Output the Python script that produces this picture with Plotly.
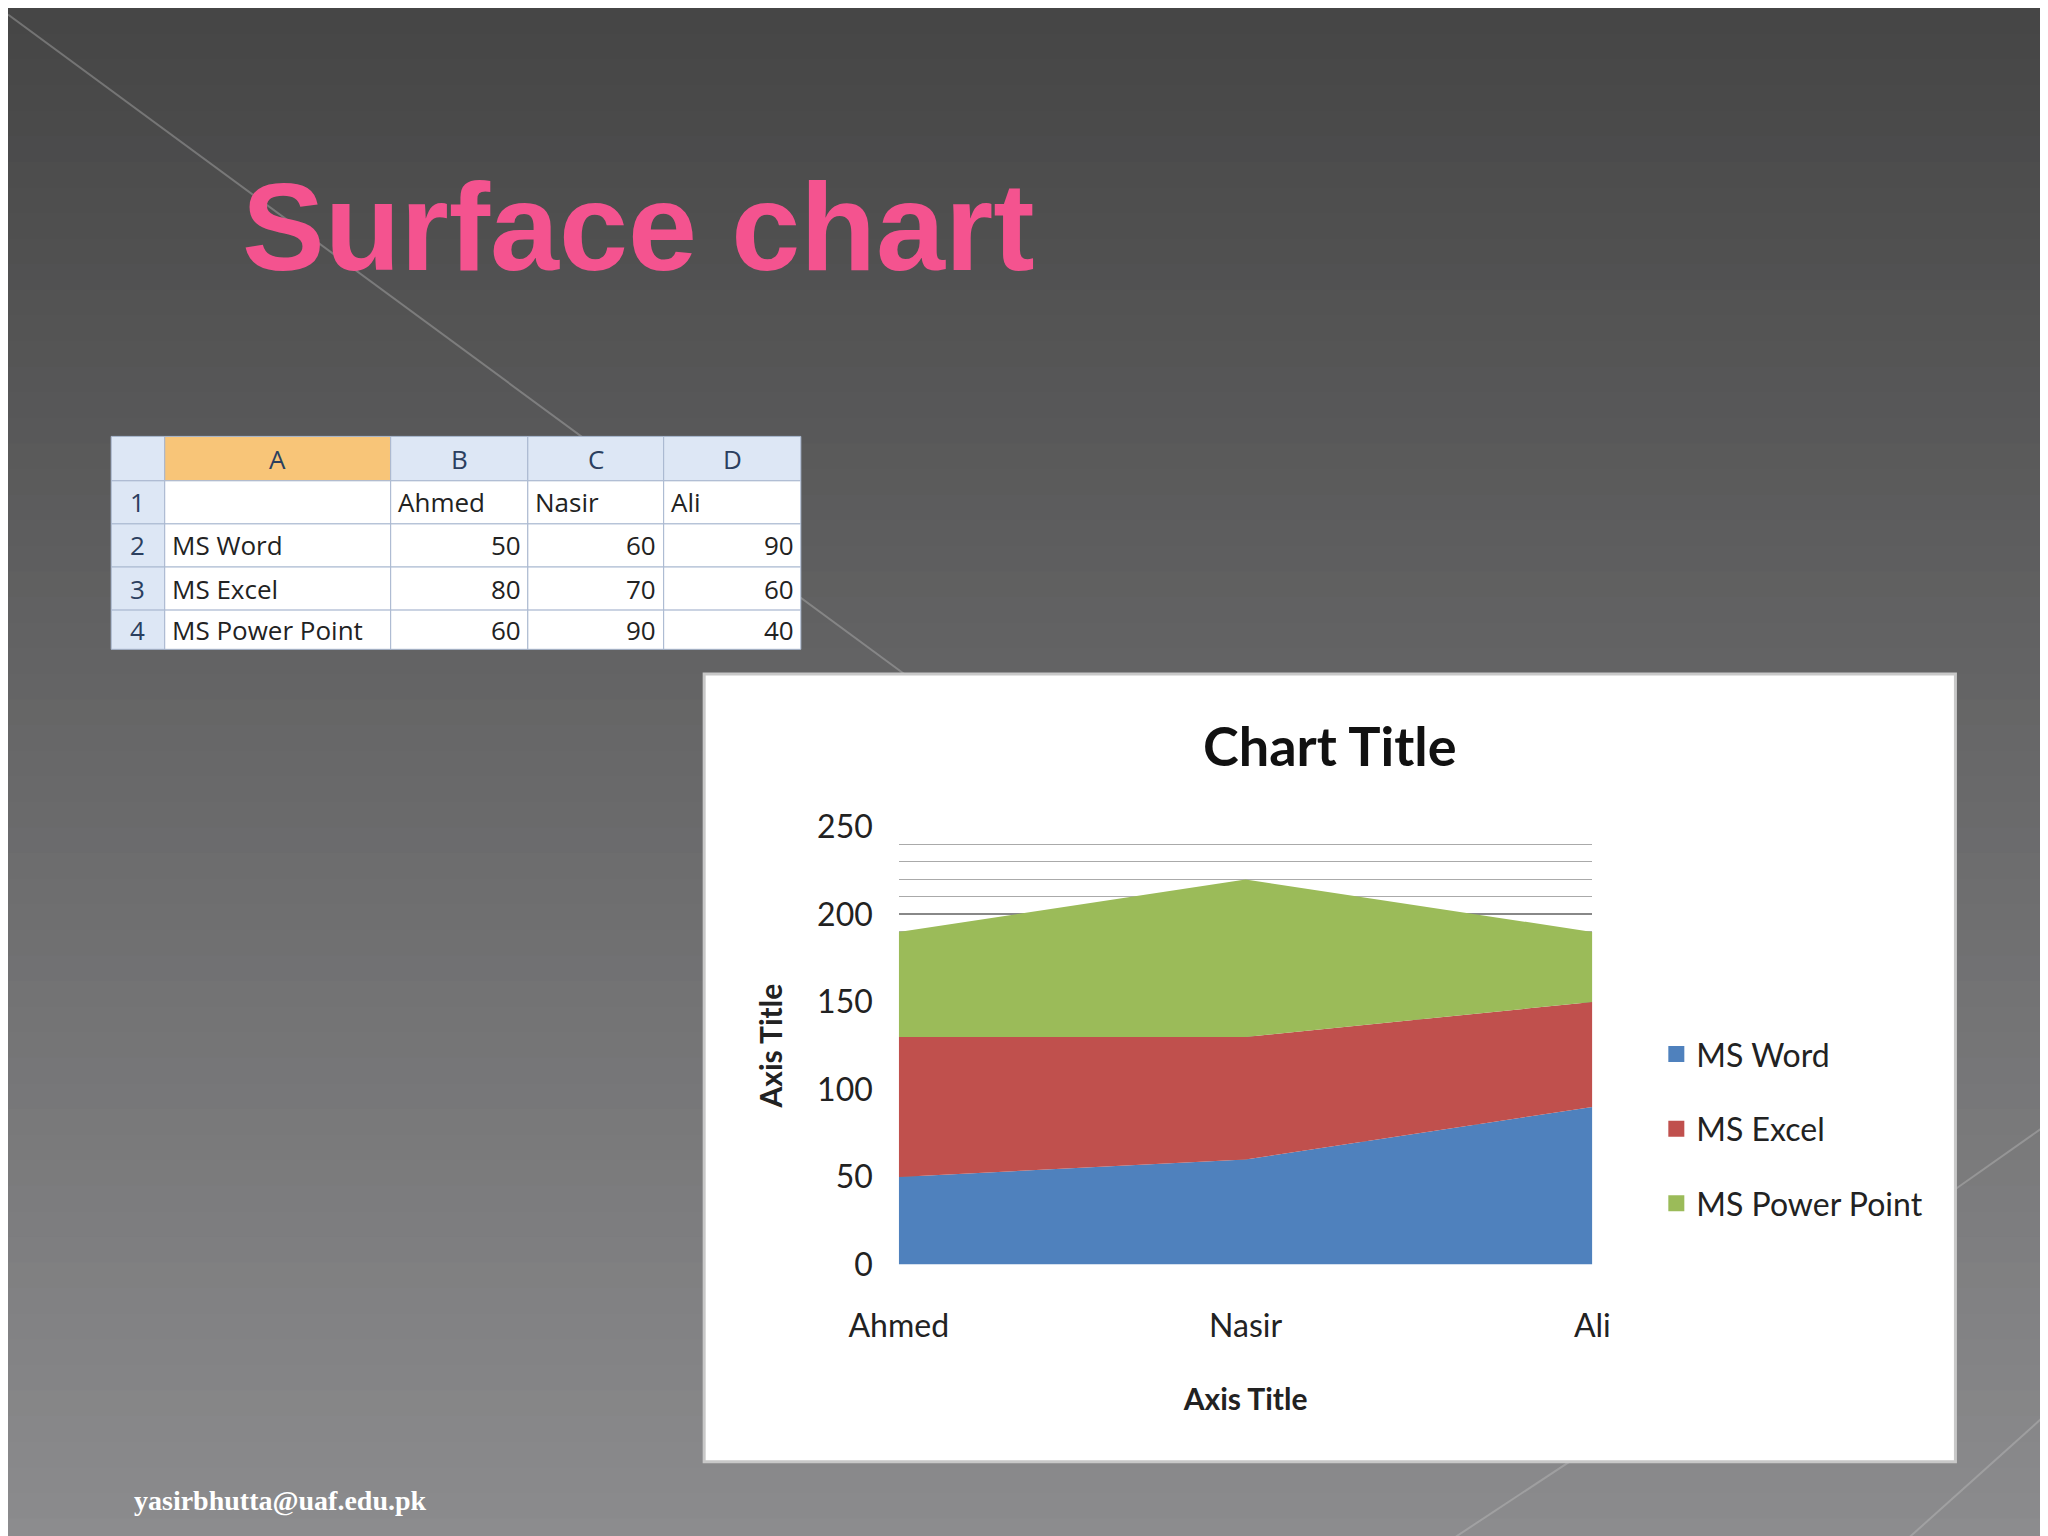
import plotly.graph_objects as go

students = ["Ahmed", "Nasir", "Ali"]
subjects = ["MS Word", "MS Excel", "MS Power Point"]
word = [50, 60, 90]
excel = [80, 70, 60]
power = [60, 90, 40]
col_letters = ["A", "B", "C", "D"]
row_numbers = ["1", "2", "3", "4"]

W, H = 2048, 1536
S = 2048 / 1568
def px(x): return x * S / W
def py(y): return 1 - y * S / H

fig = go.Figure()
colors = {"MS Word": "#4f81bd", "MS Excel": "#c0504d", "MS Power Point": "#9bbb59"}
for name, vals in zip(subjects, [word, excel, power]):
    fig.add_trace(go.Scatter(x=students, y=vals, name=name, stackgroup="one", mode="none",
                             fillcolor=colors[name], line=dict(width=0), showlegend=False))
for name in subjects:
    fig.add_trace(go.Scatter(x=[None], y=[None], name=name, mode="markers", legendgroup=name,
                             marker=dict(symbol="square", size=18, color=colors[name])))

shapes = []
n = 60
top, bot = (0x46, 0x46, 0x46), (0x8c, 0x8c, 0x8e)
for i in range(n):
    t = i / (n - 1)
    c = tuple(int(top[k] + (bot[k] - top[k]) * t) for k in range(3))
    shapes.append(dict(type="rect", xref="paper", yref="paper", x0=0, x1=1,
                       y0=1 - (i + 1) / n - 0.001, y1=1 - i / n, fillcolor="rgb(%d,%d,%d)" % c,
                       line=dict(width=0), layer="below"))
for (a, b, c, d) in [(0, 5, 700, 520), (1568, 850, 1490, 905), (1568, 1070, 1450, 1176), (1200, 1110, 1100, 1176)]:
    shapes.append(dict(type="line", xref="paper", yref="paper", x0=px(a), y0=py(b), x1=px(c), y1=py(d),
                       line=dict(color="rgba(200,200,200,0.35)", width=2), layer="below"))
shapes.append(dict(type="rect", xref="paper", yref="paper", x0=px(533), x1=px(1491), y0=py(1113), y1=py(510),
                   fillcolor="white", line=dict(color="#c8c8c8", width=3), layer="below"))

annotations = []
cx = [79, 120, 293, 398, 502, 607]
ry = [328, 362, 395, 428, 461, 491]
tf = dict(family="Open Sans, DejaVu Sans", size=26)
for r in range(5):
    for c in range(5):
        if r == 0 and c == 1:
            fill = "#f8c578"
        elif r == 0 or c == 0:
            fill = "#dde7f5"
        else:
            fill = "white"
        shapes.append(dict(type="rect", xref="paper", yref="paper", x0=px(cx[c]), x1=px(cx[c + 1]),
                           y0=py(ry[r + 1]), y1=py(ry[r]), fillcolor=fill,
                           line=dict(color="#a9b8d0", width=1), layer="below"))
def cell(text, c, r, align, color="#222"):
    ymid = py((ry[r] + ry[r + 1]) / 2)
    if align == "center":
        x, xa = px((cx[c] + cx[c + 1]) / 2), "center"
    elif align == "left":
        x, xa = px(cx[c] + 4), "left"
    else:
        x, xa = px(cx[c + 1] - 4), "right"
    annotations.append(dict(text=text, x=x, y=ymid, xref="paper", yref="paper", xanchor=xa,
                            yanchor="middle", showarrow=False, font=dict(tf, color=color)))
for i, L in enumerate(col_letters):
    cell(L, i + 1, 0, "center", "#2b3f5f")
for i, R in enumerate(row_numbers):
    cell(R, 0, i + 1, "center", "#2b3f5f")
for i, s in enumerate(students):
    cell(s, i + 2, 1, "left")
for j, (name, vals) in enumerate(zip(subjects, [word, excel, power])):
    cell(name, 1, j + 2, "left")
    for i, v in enumerate(vals):
        cell(str(v), i + 2, j + 2, "right")

annotations += [
    dict(text="<b>Surface chart</b>", x=px(178), y=py(168), xref="paper", yref="paper", xanchor="left",
         yanchor="middle", showarrow=False, font=dict(family="Liberation Sans, Arial", size=124, color="#f4538f")),
    dict(text="<b>Chart Title</b>", x=px(1012), y=py(565), xref="paper", yref="paper", xanchor="center",
         yanchor="middle", showarrow=False, font=dict(family="Lato, Open Sans", size=54, color="#111")),
    dict(text="<b>yasirbhutta@uaf.edu.pk</b>", x=px(95), y=py(1143), xref="paper", yref="paper", xanchor="left",
         yanchor="middle", showarrow=False, font=dict(family="Liberation Serif, Times New Roman", size=28, color="white")),
]

cf = dict(family="Lato, Open Sans", color="#222")
fig.update_layout(
    width=W, height=H, margin=dict(l=0, r=0, t=0, b=0, autoexpand=False),
    paper_bgcolor="#5a5a5a", plot_bgcolor="rgba(0,0,0,0)",
    shapes=shapes, annotations=annotations,
    xaxis=dict(domain=[px(682), px(1213)], range=[0, 2], showgrid=False, ticks="", showline=False,
               automargin=False, tickfont=dict(cf, size=32), ticklabelstandoff=40,
               title=dict(text="<b>Axis Title</b>", font=dict(cf, size=30), standoff=45)),
    yaxis=dict(domain=[py(962), py(627)], range=[0, 250], dtick=50, gridcolor="#888", gridwidth=1.5,
               minor=dict(dtick=10, showgrid=True, gridcolor="#aaa", gridwidth=1),
               automargin=False, showline=False, zeroline=False, tickfont=dict(cf, size=32), ticklabelstandoff=25,
               title=dict(text="<b>Axis Title</b>", font=dict(cf, size=30), standoff=25)),
    legend=dict(x=px(1262), y=py(780), xanchor="left", yanchor="top", traceorder="reversed+grouped",
                font=dict(cf, size=32), bgcolor="rgba(0,0,0,0)", tracegroupgap=30),
)
fig.write_html("out.html")
